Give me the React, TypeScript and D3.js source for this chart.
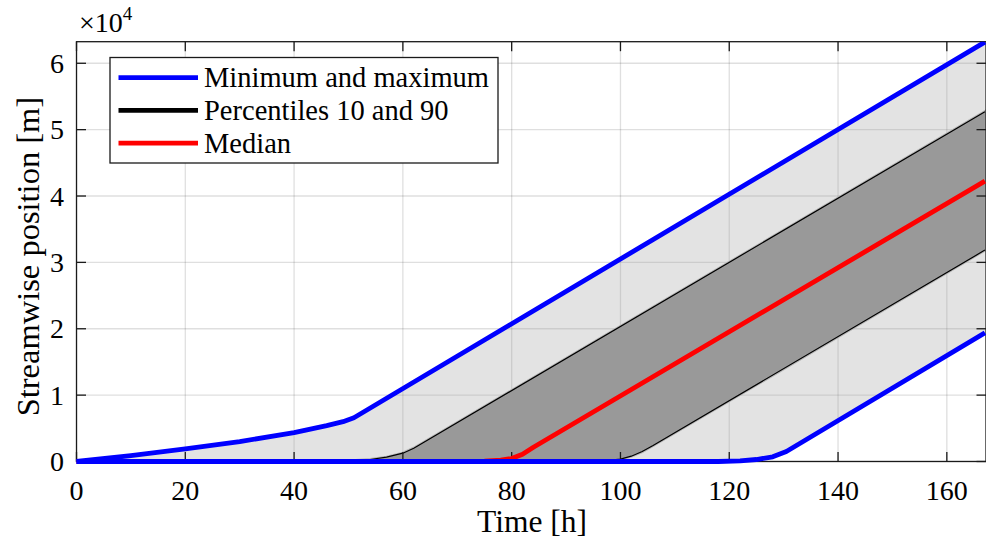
import React, { useEffect } from "react";
import * as d3 from "d3";

const W = 986;
const H = 553;

const xTicks = [0, 20, 40, 60, 80, 100, 120, 140, 160];
const yTicks = [0, 1, 2, 3, 4, 5, 6];

const maxHours = [0, 10, 20, 30, 40, 46, 49, 51, 167];
const maxPos = [0, 900, 1900, 3000, 4350, 5400, 6000, 6600, 63200];

const p90Hours = [0, 45, 50, 54, 57, 60, 62, 167];
const p90Pos = [0, 0, 80, 300, 650, 1250, 2000, 52700];

const medianHours = [0, 70, 75, 78, 80, 82, 84, 167];
const medianPos = [0, 0, 50, 200, 450, 1100, 2150, 42250];

const p10Hours = [0, 92, 97, 100, 102, 104, 106, 167];
const p10Pos = [0, 0, 100, 350, 800, 1500, 2400, 31850];

const minHours = [0, 118, 122, 125, 128, 130.5, 167];
const minPos = [0, 0, 100, 300, 700, 1500, 19400];

const legendItems = ["Minimum and maximum", "Percentiles 10 and 90", "Median"];
const legendColors = ["#0000ff", "#000000", "#ff0000"];

type P = [number, number];
const zip = (t: number[], v: number[]): P[] => t.map((h, i) => [h, v[i]]);

export default function App() {
  useEffect(() => {
    document.body.style.margin = "0";
  }, []);

  const left = 76.5;
  const right = 986;
  const top = 41.7;
  const bottom = 461.5;
  const x = d3.scaleLinear().domain([0, 167.2]).range([left, right]);
  const y = d3.scaleLinear().domain([0, 63250]).range([bottom, top]);
  const line = d3
    .line<P>()
    .x((d) => x(d[0]))
    .y((d) => y(d[1]));

  const maxP = zip(maxHours, maxPos);
  const minP = zip(minHours, minPos);
  const p90P = zip(p90Hours, p90Pos);
  const p10P = zip(p10Hours, p10Pos);
  const medP = zip(medianHours, medianPos);

  const outer = line([...maxP, ...minP.slice().reverse()]) + "Z";
  const inner = line([...p90P, ...p10P.slice().reverse()]) + "Z";

  const axisColor = "#1a1a1a";
  const tickLen = 9.5;
  const fs = (n: number) => ({ fontFamily: `"Liberation Serif"`, fontSize: n });

  return (
    <svg width={W} height={H} style={{ display: "block" }}>
      <defs>
        <clipPath id="plot">
          <rect x={left} y={top} width={right - left} height={bottom - top} />
        </clipPath>
        <clipPath id="plotLines">
          <rect x={left - 4} y={top} width={right - left + 4} height={bottom - top + 4} />
        </clipPath>
      </defs>
      <rect x={0} y={0} width={W} height={H} fill="#fff" />
      <g clipPath="url(#plot)">
        {xTicks.map((t) => (
          <line key={"gx" + t} x1={x(t)} x2={x(t)} y1={top} y2={bottom} stroke="#262626" strokeOpacity={0.15} strokeWidth={1.3} />
        ))}
        {yTicks.map((t) => (
          <line key={"gy" + t} x1={left} x2={right} y1={y(t * 1e4)} y2={y(t * 1e4)} stroke="#262626" strokeOpacity={0.15} strokeWidth={1.3} />
        ))}
        <path d={outer} fill="#a2a2a2" fillOpacity={0.3} />
        <path d={inner} fill="#999999" stroke="#b4b4b4" strokeWidth={3} />
        <path d={inner} fill="#999999" />
        <path d={line(p90P)!} fill="none" stroke="#000" strokeWidth={1.2} />
        <path d={line(p10P)!} fill="none" stroke="#000" strokeWidth={1.2} />
      </g>
      <rect x={left} y={top} width={right - left} height={bottom - top} fill="none" stroke={axisColor} strokeWidth={1.3} />
      {xTicks.map((t) => (
        <g key={"tx" + t}>
          <line x1={x(t)} x2={x(t)} y1={bottom} y2={bottom - tickLen} stroke={axisColor} strokeWidth={1.3} />
          <line x1={x(t)} x2={x(t)} y1={top} y2={top + tickLen} stroke={axisColor} strokeWidth={1.3} />
          <text x={x(t)} y={500} textAnchor="middle" style={fs(28)}>
            {t}
          </text>
        </g>
      ))}
      {yTicks.map((t) => (
        <g key={"ty" + t}>
          <line x1={left} x2={left + tickLen} y1={y(t * 1e4)} y2={y(t * 1e4)} stroke={axisColor} strokeWidth={1.3} />
          <line x1={right} x2={right - tickLen} y1={y(t * 1e4)} y2={y(t * 1e4)} stroke={axisColor} strokeWidth={1.3} />
          <text x={64} y={y(t * 1e4) + 9.5} textAnchor="end" style={fs(28)}>
            {t}
          </text>
        </g>
      ))}
      <g clipPath="url(#plotLines)">
        <path d={line(medP)!} fill="none" stroke="#ff0000" strokeWidth={4.8} strokeLinejoin="round" />
        <path d={line(maxP)!} fill="none" stroke="#0000ff" strokeWidth={4.8} strokeLinejoin="round" />
        <path d={line(minP)!} fill="none" stroke="#0000ff" strokeWidth={4.8} strokeLinejoin="round" />
      </g>
      <text x={79} y={32} style={fs(28)}>
        ×10
        <tspan dy={-12} style={{ fontSize: 19 }}>
          4
        </tspan>
      </text>
      <text x={532} y={532} textAnchor="middle" style={fs(31.5)}>
        Time [h]
      </text>
      <text transform={`translate(39, ${(top + bottom) / 2 + 5}) rotate(-90)`} textAnchor="middle" style={fs(32.5)}>
        Streamwise position [m]
      </text>
      <rect x={110} y={57.5} width={388} height={105.5} fill="#fff" stroke={axisColor} strokeWidth={1.3} />
      {legendItems.map((label, i) => (
        <g key={label}>
          <line x1={118.5} x2={198} y1={77.7 + i * 32.7} y2={77.7 + i * 32.7} stroke={legendColors[i]} strokeWidth={4.8} />
          <text x={204} y={77.7 + i * 32.7 + 9.5} style={fs(28.5)}>
            {label}
          </text>
        </g>
      ))}
    </svg>
  );
}
